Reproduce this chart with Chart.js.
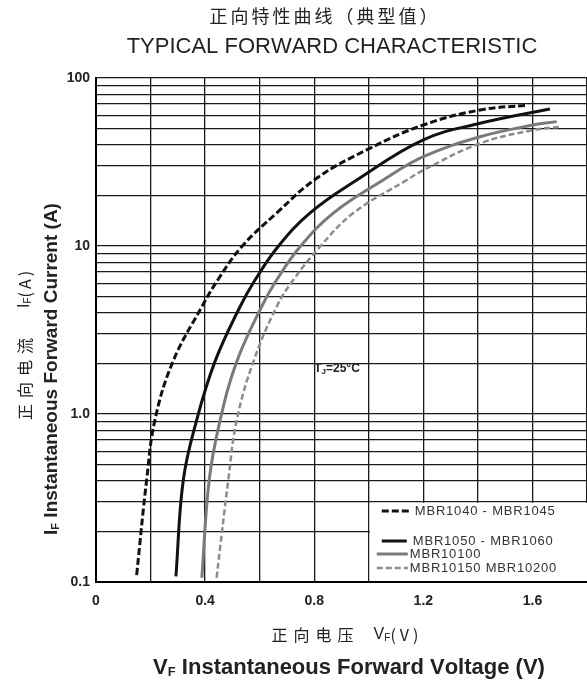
<!DOCTYPE html>
<html>
<head>
<meta charset="utf-8">
<title>Typical Forward Characteristic</title>
<script src="https://cdn.jsdelivr.net/npm/chart.js@4.4.1/dist/chart.umd.min.js"></script>
<style>
    html, body { margin: 0; padding: 0; background: #fff; }
    #chart { display: block; }
</style>
</head>
<body>
<canvas id="chart" width="587" height="683"></canvas>
<script>
// legend text, one per curve
const seriesLabels = ["MBR1040 - MBR1045", "MBR1050 - MBR1060", "MBR10100", "MBR10150 MBR10200"];

// curves: forward voltage (V) and forward current (A)
const vf1040 = [0.149, 0.186, 0.216, 0.282, 0.388, 0.447, 0.534, 0.662, 0.809, 0.992, 1.2, 1.408, 1.585];
const if1040 = [0.11, 0.41, 0.92, 2.05, 4.35, 6.3, 9.9, 15.7, 25.3, 37.3, 52.5, 64.5, 69];

const vf1050 = [0.293, 0.32, 0.369, 0.436, 0.528, 0.583, 0.667, 0.784, 0.956, 1.2, 1.408, 1.664];
const if1050 = [0.108, 0.405, 0.92, 2.05, 4.35, 6.27, 9.9, 15.7, 24.7, 42.8, 53.8, 65.4];

const vf10100 = [0.388, 0.415, 0.455, 0.516, 0.607, 0.662, 0.748, 0.87, 1.053, 1.2, 1.408, 1.602, 1.689];
const if10100 = [0.106, 0.405, 0.92, 2.05, 4.35, 6.27, 9.9, 15.7, 24.7, 34, 44.7, 52.5, 55];

const vf10150 = [0.442, 0.485, 0.516, 0.577, 0.662, 0.723, 0.821, 0.943, 1.139, 1.2, 1.408, 1.602, 1.707];
const if10150 = [0.106, 0.405, 0.92, 2.05, 4.35, 6.27, 9.9, 15.7, 24.7, 28.3, 40.8, 49, 51.3];

// axis ticks (every tick gets a grid line, only some are labelled)
const xTicks = [0, 0.2, 0.4, 0.6, 0.8, 1.0, 1.2, 1.4, 1.6, 1.8];
const xTickLabels = ["0", "", "0.4", "", "0.8", "", "1.2", "", "1.6", ""];
const yTicks = [0.1, 0.2, 0.3, 0.4, 0.5, 0.6, 0.7, 0.8, 0.9,
                1, 2, 3, 4, 5, 6, 7, 8, 9,
                10, 20, 30, 40, 50, 60, 70, 80, 90, 100];
const yTickLabels = ["0.1", "", "", "", "", "", "", "", "",
                     "1.0", "", "", "", "", "", "", "", "",
                     "10", "", "", "", "", "", "", "", "", "100"];

const SANS = '"Liberation Sans", Arial, sans-serif';
const CJK = '"Noto Sans CJK SC", sans-serif';

function points(xs, ys) {
    return xs.map((x, i) => ({ x: x, y: ys[i] }));
}

// draws a run of text pieces (with sub-scripts / letter spacing)
function pieceWidth(ctx, p) {
    ctx.font = p.font;
    let w = 0;
    for (const ch of p.text) w += ctx.measureText(ch).width + (p.sp || 0);
    return w + (p.gap || 0);
}

function drawRun(ctx, parts, x, y, align) {
    let total = parts.reduce((s, p) => s + pieceWidth(ctx, p), 0);
    let px = align === "center" ? x - total / 2 : x;
    ctx.textAlign = "left";
    ctx.textBaseline = "middle";
    parts.forEach(p => {
        ctx.font = p.font;
        for (const ch of p.text) {
            ctx.fillText(ch, px, y + (p.dy || 0));
            px += ctx.measureText(ch).width + (p.sp || 0);
        }
        px += p.gap || 0;
    });
}

const sheetDecor = {
    id: "sheetDecor",
    beforeDatasetsDraw(chart) {
        // white panel behind the legend, grid stops at its edges
        const { ctx, scales, chartArea } = chart;
        const bx = scales.x.getPixelForValue(1.0);
        const by = scales.y.getPixelForValue(0.3);
        ctx.save();
        ctx.fillStyle = "#fff";
        ctx.fillRect(bx + 1, by + 1, chartArea.right - bx + 2, chartArea.bottom - by - 2);
        ctx.restore();
    },
    afterDatasetsDraw(chart) {
        const { ctx, scales, chartArea } = chart;
        const bx = scales.x.getPixelForValue(1.0);
        const bottom = chartArea.bottom;
        const rows = [
            { dy: -71, x0: 13, x1: 41, tx: 46 },
            { dy: -41, x0: 13, x1: 38, tx: 44 },
            { dy: -28, x0: 8, x1: 39, tx: 41 },
            { dy: -14, x0: 8, x1: 39, tx: 41 }
        ];
        ctx.save();
        rows.forEach((r, i) => {
            const ds = chart.data.datasets[i];
            const y = bottom + r.dy;
            ctx.strokeStyle = ds.borderColor;
            ctx.lineWidth = ds.borderWidth;
            ctx.setLineDash(ds.borderDash || []);
            ctx.beginPath();
            ctx.moveTo(bx + r.x0, y);
            ctx.lineTo(bx + r.x1, y);
            ctx.stroke();
            ctx.setLineDash([]);
            ctx.fillStyle = "#333";
            drawRun(ctx, [{ text: seriesLabels[i], font: "13px " + SANS, sp: 0.8 }], bx + r.tx, y, "left");
        });

        // junction temperature note
        ctx.fillStyle = "#222";
        drawRun(ctx, [
            { text: "T", font: "bold 12px " + SANS },
            { text: "J", font: "bold 8px " + SANS, dy: 3 },
            { text: "=25°C", font: "bold 12px " + SANS }
        ], scales.x.getPixelForValue(0.8), scales.y.getPixelForValue(1.85), "left");
        ctx.restore();
    },
    afterDraw(chart) {
        const ctx = chart.ctx;
        ctx.save();
        ctx.fillStyle = "#222";

        drawRun(ctx, [{ text: "正向特性曲线（典型值）", font: "18px " + CJK, sp: 3 }], 325, 16, "center");
        drawRun(ctx, [{ text: "TYPICAL FORWARD CHARACTERISTIC", font: "22px " + SANS }], 332, 47, "center");

        drawRun(ctx, [
            { text: "正向电压", font: "16px " + CJK, sp: 6, gap: 14 },
            { text: "V", font: "16px " + SANS },
            { text: "F", font: "10px " + SANS, dy: 3 },
            { text: "(V)", font: "16px " + CJK, sp: 4 }
        ], 347, 635, "center");

        drawRun(ctx, [
            { text: "V", font: "bold 22px " + SANS },
            { text: "F", font: "bold 13px " + SANS, dy: 4 },
            { text: " Instantaneous Forward Voltage (V)", font: "bold 22px " + SANS }
        ], 349, 668, "center");

        // rotated y titles
        ctx.save();
        ctx.translate(25, 344);
        ctx.rotate(-Math.PI / 2);
        drawRun(ctx, [
            { text: "正向电流", font: "16px " + CJK, sp: 6, gap: 24 },
            { text: "I", font: "16px " + SANS },
            { text: "F", font: "10px " + SANS, dy: 3 },
            { text: "(A)", font: "16px " + CJK, sp: 3 }
        ], 0, 0, "center");
        ctx.restore();

        ctx.save();
        ctx.translate(52, 369);
        ctx.rotate(-Math.PI / 2);
        drawRun(ctx, [
            { text: "I", font: "bold 19px " + SANS },
            { text: "F", font: "bold 11px " + SANS, dy: 4 },
            { text: " Instantaneous Forward Current (A)", font: "bold 19px " + SANS }
        ], 0, 0, "center");
        ctx.restore();

        ctx.restore();
    }
};

function createChart() {
    const grid = { color: "#1a1a1a", lineWidth: 1.3, drawTicks: false };

    return new Chart(document.getElementById("chart"), {
        type: "line",
        data: {
            datasets: [{
                label: seriesLabels[0],
                data: points(vf1040, if1040),
                borderColor: "#111",
                borderWidth: 3,
                borderDash: [7, 3]
            }, {
                label: seriesLabels[1],
                data: points(vf1050, if1050),
                borderColor: "#111",
                borderWidth: 3
            }, {
                label: seriesLabels[2],
                data: points(vf10100, if10100),
                borderColor: "#7a7a7a",
                borderWidth: 3
            }, {
                label: seriesLabels[3],
                data: points(vf10150, if10150),
                borderColor: "#8c8c8c",
                borderWidth: 2.5,
                borderDash: [6, 3]
            }]
        },
        options: {
            responsive: false,
            animation: false,
            devicePixelRatio: 1,
            layout: { padding: { top: 78, left: 0, right: 0, bottom: 0 } },
            elements: {
                point: { radius: 0 },
                line: { tension: 0.4, fill: false }
            },
            plugins: {
                legend: { display: false },
                tooltip: { enabled: false }
            },
            scales: {
                x: {
                    type: "linear",
                    min: 0,
                    max: 1.8,
                    grid: grid,
                    border: { color: "#000", width: 2 },
                    afterBuildTicks: s => { s.ticks = xTicks.map(v => ({ value: v })); },
                    afterFit: s => { s.height = 101; s.paddingRight = 0; s.paddingLeft = 0; },
                    ticks: {
                        autoSkip: false,
                        maxRotation: 0,
                        padding: 11,
                        color: "#222",
                        font: { family: SANS, size: 14, weight: "bold" },
                        callback: (v, i) => xTickLabels[i]
                    }
                },
                y: {
                    type: "logarithmic",
                    min: 0.1,
                    max: 100,
                    grid: grid,
                    border: { color: "#000", width: 2 },
                    afterBuildTicks: s => { s.ticks = yTicks.map(v => ({ value: v })); },
                    afterFit: s => { s.width = 96; },
                    ticks: {
                        autoSkip: false,
                        padding: 6,
                        color: "#222",
                        font: { family: SANS, size: 14, weight: "bold" },
                        callback: (v, i) => yTickLabels[i]
                    }
                }
            }
        },
        plugins: [sheetDecor]
    });
}

createChart();
</script>
</body>
</html>
